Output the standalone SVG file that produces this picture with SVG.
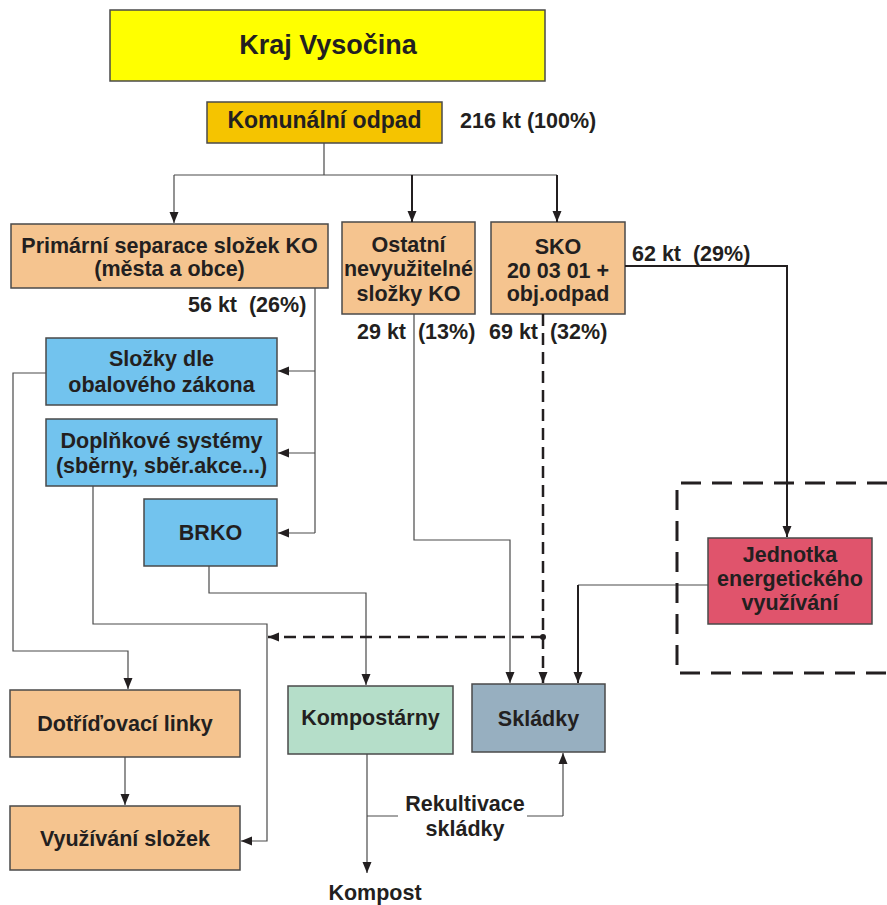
<svg xmlns="http://www.w3.org/2000/svg" width="887" height="905" viewBox="0 0 887 905">
<style>
.t{font-family:"Liberation Sans",Arial,sans-serif;font-weight:bold;fill:#231f20;text-anchor:middle;font-size:21.5px}
.l{text-anchor:start;white-space:pre}
.box{stroke:#4a4a4a;stroke-width:1.5}
.c{fill:none;stroke:#4a4a4a;stroke-width:1.2}
.c2{fill:none;stroke:#231f20;stroke-width:2}
.d{fill:none;stroke:#231f20;stroke-width:2.5;stroke-dasharray:12 7}
.peach{fill:#f5c48f}
.blue{fill:#72c3ee}
</style>
<defs>
<marker id="a" markerUnits="userSpaceOnUse" markerWidth="12" markerHeight="12" viewBox="0 0 12 12" refX="11" refY="6" orient="auto">
<path d="M0,1.5 L11,6 L0,10.5 Z" fill="#231f20"/>
</marker>
</defs>
<g id="kraj"><rect class="box" x="110" y="10" width="435" height="71" fill="#ffff00"/><text class="t" x="328" y="54" style="font-size:27px">Kraj Vysočina</text></g>
<g id="komunalni"><rect class="box" x="207" y="102" width="235" height="41" fill="#f5c400"/><text class="t" x="324.5" y="128" style="font-size:23px">Komunální odpad</text><text class="t l" x="460" y="128">216 kt (100%)</text></g>
<g id="primarni"><rect class="box peach" x="11" y="224" width="317" height="64"/><text class="t" x="169.5" y="253">Primární separace složek KO</text><text class="t" x="169.5" y="276">(města a obce)</text><text class="t l" x="188" y="312" xml:space="preserve">56 kt  (26%)</text></g>
<g id="ostatni"><rect class="box peach" x="342" y="222" width="133" height="92"/><text class="t" x="408.5" y="252">Ostatní</text><text class="t" x="408.5" y="276">nevyužitelné</text><text class="t" x="408.5" y="301">složky KO</text><text class="t l" x="357" y="339" xml:space="preserve">29 kt  (13%)</text></g>
<g id="sko"><rect class="box peach" x="491" y="222" width="134" height="92"/><text class="t" x="558" y="254">SKO</text><text class="t" x="558" y="278">20 03 01 +</text><text class="t" x="558" y="301">obj.odpad</text><text class="t l" x="489" y="339" xml:space="preserve">69 kt  (32%)</text><text class="t l" x="632" y="261" xml:space="preserve">62 kt  (29%)</text></g>
<g id="slozky"><rect class="box blue" x="46" y="338" width="231" height="67"/><text class="t" x="161.5" y="366">Složky dle</text><text class="t" x="161.5" y="392">obalového zákona</text></g>
<g id="doplnkove"><rect class="box blue" x="46" y="419" width="231" height="67"/><text class="t" x="161.5" y="448">Doplňkové systémy</text><text class="t" x="161.5" y="473">(sběrny, sběr.akce...)</text></g>
<g id="brko"><rect class="box blue" x="144" y="499" width="133" height="67"/><text class="t" x="210.5" y="540">BRKO</text></g>
<g id="jednotka"><rect class="box" x="708" y="538" width="164" height="86" fill="#e0546c"/><text class="t" x="790" y="562">Jednotka</text><text class="t" x="790" y="586">energetického</text><text class="t" x="790" y="610">využívání</text></g>
<g id="dotridovaci"><rect class="box peach" x="10" y="690" width="230" height="67"/><text class="t" x="125" y="731">Dotříďovací linky</text></g>
<g id="vyuzivani"><rect class="box peach" x="10" y="806" width="230" height="64"/><text class="t" x="125" y="846">Využívání složek</text></g>
<g id="kompostarny"><rect class="box" x="288" y="686" width="165" height="68" fill="#b5dec9"/><text class="t" x="370.5" y="725">Kompostárny</text></g>
<g id="skladky"><rect class="box" x="472" y="684" width="133" height="68" fill="#97afc0"/><text class="t" x="538.5" y="726">Skládky</text></g>
<g id="labels"><text class="t" x="465" y="811">Rekultivace</text><text class="t" x="465" y="836">skládky</text><text class="t" x="375" y="900">Kompost</text></g>
<g id="connectors">
<path class="c" d="M324,143 V175 M174,175 H557"/>
<path class="c" d="M174,175 V223" marker-end="url(#a)"/>
<path class="c2" d="M412,175 V222" marker-end="url(#a)"/>
<path class="c2" d="M557,175 V222" marker-end="url(#a)"/>
<path class="c" d="M315,288 V533"/>
<path class="c" d="M315,371 H278" marker-end="url(#a)"/>
<path class="c" d="M315,453 H278" marker-end="url(#a)"/>
<path class="c" d="M315,533 H278" marker-end="url(#a)"/>
<path class="c" d="M46,373 H13 V651 H128 V689" marker-end="url(#a)"/>
<path class="c" d="M93,486 V624 H267 V841 H241" marker-end="url(#a)"/>
<path class="c" d="M209,566 V593 H366 V685" marker-end="url(#a)"/>
<path class="c" d="M414,314 V540 H510 V683" marker-end="url(#a)"/>
<path class="d" d="M543,314 V683" marker-end="url(#a)"/>
<path class="d" d="M543,637 H268" marker-end="url(#a)"/>
<circle cx="543" cy="637" r="3" fill="#231f20"/>
<path class="c2" d="M625,266 H787 V537" marker-end="url(#a)"/>
<path class="c" d="M708,585 H578"/>
<path class="c2" d="M578,585 V683" marker-end="url(#a)"/>
<path class="c" d="M367,754 V873" marker-end="url(#a)"/>
<path class="c" d="M367,816 H398 M527,816 H563"/>
<path class="c" d="M563,816 V753" marker-end="url(#a)"/>
<path class="c" d="M125,757 V805" marker-end="url(#a)"/>
<path fill="none" stroke="#231f20" stroke-width="3" stroke-dasharray="20 11" d="M887,483 H677 V673 H887"/>
</g>
</svg>
